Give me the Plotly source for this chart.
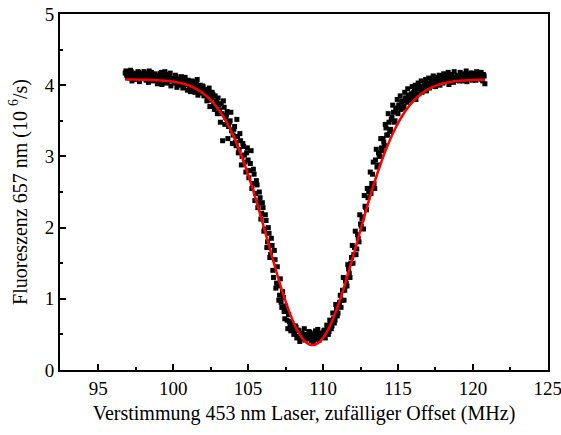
import plotly.graph_objects as go

# Measured fluorescence, scan 1: x = 96.8 ... 120.8, step 0.1 MHz
x1_start = 96.8
y1_data = [
    4.17, 4.14,
    4.16, 4.10, 4.19, 4.12, 4.08, 4.15, 4.11, 4.18, 4.09, 4.14,
    4.12, 4.17, 4.07, 4.13, 4.20, 4.10, 4.15, 4.08, 4.16, 4.11,
    4.14, 4.06, 4.18, 4.11, 4.09, 4.15, 4.04, 4.12, 4.17, 4.07,
    4.10, 4.03, 4.12, 4.06, 4.00, 4.09, 4.05, 3.98, 4.11, 4.04,
    4.07, 3.99, 4.02, 3.94, 4.05, 3.97, 4.08, 3.92, 4.00, 3.95,
    3.98, 3.88, 3.93, 3.84, 3.96, 3.79, 3.90, 3.72, 3.85, 3.76,
    3.82, 3.65, 3.74, 3.22, 3.69, 3.55, 3.63, 3.42, 3.50, 3.36,
    3.30, 3.42, 3.15, 3.28, 3.10, 3.22, 3.00, 3.14, 2.92, 3.05,
    2.95, 2.80, 3.08, 2.62, 2.75, 2.48, 2.60, 2.35, 2.42, 2.20,
    2.28, 1.98, 2.10, 1.80, 1.92, 1.62, 1.75, 1.30, 1.55, 1.22,
    1.18, 1.05, 0.95, 1.10, 0.82, 0.90, 0.70, 0.78, 0.62, 0.66,
    0.58, 0.52, 0.60, 0.47, 0.55, 0.44, 0.51, 0.48, 0.42, 0.50,
    0.46, 0.53, 0.41, 0.49, 0.45, 0.55, 0.43, 0.50, 0.47, 0.52,
    0.48, 0.56, 0.51, 0.60, 0.54, 0.66, 0.62, 0.72, 0.70, 0.85,
    0.80, 0.95, 0.88, 1.12, 0.98, 1.25, 1.18, 1.42, 1.30, 1.58,
    1.50, 1.72, 1.62, 1.90, 1.80, 2.05, 2.12, 1.98, 2.30, 2.25,
    2.42, 2.55, 2.48, 2.75, 2.62, 2.95, 2.85, 3.05, 3.00, 3.12,
    3.25, 3.15, 3.40, 3.30, 3.48, 3.38, 3.55, 3.62, 3.50, 3.68,
    3.60, 3.72, 3.66, 3.78, 3.70, 3.82, 3.76, 3.86, 3.80, 3.88,
    3.84, 3.92, 3.80, 3.95, 3.88, 3.98, 3.90, 3.94, 4.00, 3.92,
    4.02, 3.96, 4.05, 3.99, 4.07, 3.98, 4.04, 4.09, 4.00, 4.06,
    4.03, 4.10, 4.05, 4.12, 4.01, 4.08, 4.14, 4.04, 4.11, 4.07,
    4.13, 4.06, 4.10, 4.16, 4.08, 4.12, 4.05, 4.15, 4.09, 4.17,
    4.11, 4.14, 4.07, 4.16, 4.10, 4.13, 4.08, 4.15, 4.02,
]
x1_data = [round(x1_start + 0.1 * i, 2) for i in range(len(y1_data))]

# Measured fluorescence, scan 2: x = 96.85 ... 120.75, step 0.1 MHz
x2_start = 96.85
y2_data = [
    4.20, 4.11,
    4.13, 4.21, 4.06, 4.17, 4.14, 4.09, 4.19, 4.05, 4.16, 4.12,
    4.19, 4.09, 4.15, 4.04, 4.13, 4.18, 4.06, 4.14, 4.10, 4.02,
    4.08, 4.16, 4.01, 4.13, 4.19, 4.03, 4.10, 4.15, 3.99, 4.09,
    4.06, 4.14, 3.97, 4.08, 4.03, 4.12, 3.96, 4.07, 4.01, 3.93,
    4.03, 3.91, 4.06, 3.98, 3.90, 4.01, 3.86, 3.96, 3.89, 3.99,
    3.85, 3.94, 3.78, 3.90, 3.70, 3.83, 3.87, 3.66, 3.78, 3.60,
    3.72, 3.48, 3.60, 3.78, 3.45, 3.58, 3.25, 3.48, 3.62, 3.18,
    3.38, 3.20, 3.52, 3.05, 3.32, 2.88, 3.18, 3.02, 2.78, 3.12,
    2.70, 2.90, 2.55, 2.82, 2.38, 2.66, 2.28, 2.50, 2.12, 2.35,
    1.95, 2.18, 1.72, 2.00, 1.58, 1.85, 1.40, 1.68, 1.15, 1.45,
    0.98, 1.28, 0.88, 1.02, 0.72, 0.85, 0.58, 0.68, 0.55, 0.60,
    0.50, 0.62, 0.45, 0.56, 0.40, 0.52, 0.46, 0.58, 0.44, 0.49,
    0.54, 0.44, 0.50, 0.39, 0.52, 0.47, 0.57, 0.42, 0.51, 0.46,
    0.55, 0.45, 0.63, 0.50, 0.70, 0.58, 0.80, 0.66, 0.92, 0.76,
    0.90, 1.05, 0.98, 1.30, 1.12, 1.22, 1.48, 1.36, 1.50, 1.75,
    1.62, 1.95, 1.70, 1.85, 2.18, 2.02, 2.15, 2.45, 2.28, 2.55,
    2.50, 2.78, 2.62, 2.92, 2.55, 3.10, 2.88, 3.02, 3.25, 3.08,
    3.20, 3.45, 3.30, 3.60, 3.35, 3.52, 3.72, 3.48, 3.66, 3.80,
    3.72, 3.85, 3.76, 3.68, 3.90, 3.82, 3.95, 3.86, 3.79, 3.98,
    3.90, 4.00, 3.86, 4.03, 3.95, 4.06, 3.92, 4.02, 4.08, 3.97,
    4.10, 4.02, 4.08, 4.13, 4.03, 4.11, 4.06, 4.14, 4.04, 4.12,
    4.16, 4.07, 4.13, 4.18, 4.09, 4.15, 4.06, 4.19, 4.11, 4.14,
    4.08, 4.18, 4.12, 4.06, 4.15, 4.20, 4.10, 4.13, 4.17, 4.07,
    4.16, 4.12, 4.19, 4.09, 4.14, 4.18, 4.06, 4.13,
]
x2_data = [round(x2_start + 0.1 * i, 2) for i in range(len(y2_data))]

x_data = x1_data + x2_data
y_data = y1_data + y2_data

# Fit curve (red)
x_fit = [96.8, 97.3, 98.3, 99.3, 100.3, 100.8, 101.3, 101.8, 102.3, 102.8,
         103.3, 103.8, 104.3, 104.8, 105.3, 105.8, 106.3, 106.8, 107.3, 107.8,
         108.3, 108.8, 109.3, 109.8, 110.3, 110.8, 111.3, 111.8, 112.3, 112.8,
         113.3, 113.8, 114.3, 114.8, 115.3, 115.8, 116.3, 116.8, 117.3, 117.8,
         118.3, 119.3, 120.3, 120.8]
y_fit = [4.08, 4.08, 4.075, 4.066, 4.039, 4.013, 3.973, 3.916, 3.835, 3.723,
         3.575, 3.385, 3.150, 2.869, 2.547, 2.192, 1.818, 1.444, 1.093, 0.788,
         0.551, 0.401, 0.35, 0.401, 0.551, 0.788, 1.093, 1.444, 1.818, 2.192,
         2.547, 2.869, 3.150, 3.385, 3.575, 3.723, 3.835, 3.916, 3.973, 4.013,
         4.039, 4.066, 4.075, 4.077]

x_ticks = [95, 100, 105, 110, 115, 120, 125]
x_ticktext = ["95", "100", "105", "110", "115", "120", "125"]
y_ticks = [0, 1, 2, 3, 4, 5]

font_family = "Liberation Serif, Times New Roman, serif"

fig = go.Figure()
fig.add_trace(go.Scatter(
    x=x_data, y=y_data, mode="markers",
    marker=dict(symbol="square", size=5, color="black", line=dict(width=0)),
    showlegend=False,
))
fig.add_trace(go.Scatter(
    x=x_fit, y=y_fit, mode="lines", line=dict(color="#ff0000", width=2.5, shape="spline"),
    showlegend=False,
))

axis_common = dict(
    showline=True, linecolor="black", linewidth=2, mirror=True,
    ticks="inside", ticklen=6, tickwidth=2, tickcolor="black",
    showgrid=False, zeroline=False, automargin=False,
    ticklabeloverflow="allow",
    tickfont=dict(family=font_family, size=19, color="black"),
)

fig.update_xaxes(
    range=[92.45, 125.01], tickvals=x_ticks, ticktext=x_ticktext,
    minor=dict(ticks="inside", ticklen=3, tickwidth=2, tickcolor="black", dtick=2.5, tick0=92.5),
    title=dict(text="Verstimmung 453 nm Laser, zufälliger Offset (MHz)",
               font=dict(family=font_family, size=20, color="black"), standoff=8),
    **axis_common,
)
fig.update_yaxes(
    range=[0, 5], tickvals=y_ticks,
    minor=dict(ticks="inside", ticklen=3, tickwidth=2, tickcolor="black", dtick=0.5),
    title=dict(text="Fluoreszenz 657 nm (10 <sup>6</sup>/s)",
               font=dict(family=font_family, size=20, color="black"), standoff=12),
    **axis_common,
)

fig.update_layout(
    width=561, height=435,
    margin=dict(l=60, r=13, t=14, b=65),
    plot_bgcolor="white", paper_bgcolor="white",
)

fig.write_html(
    "out.html",
    config={"displayModeBar": False},
    post_script="document.body.style.margin='0';document.body.style.overflow='hidden';",
)
